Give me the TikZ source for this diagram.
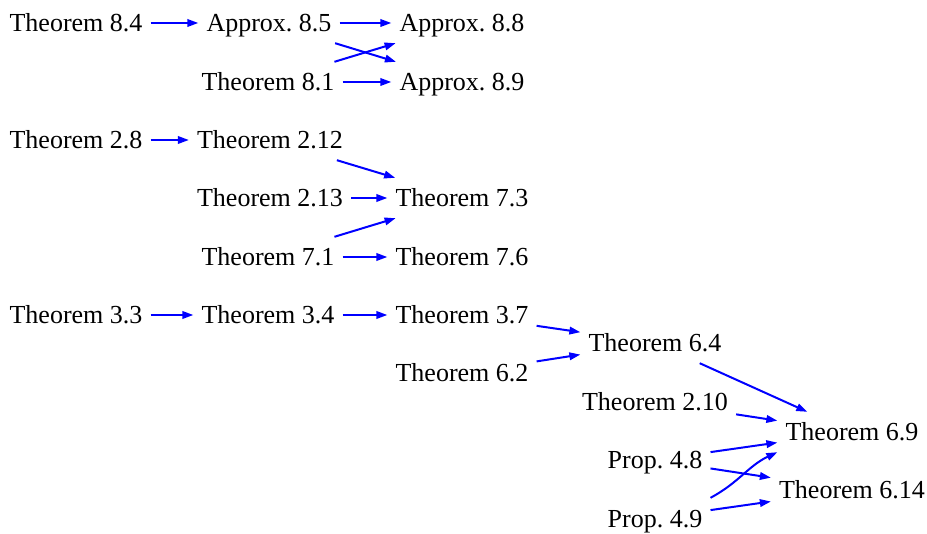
\documentclass[tikz,border=0pt]{standalone}
\usepackage{fontspec}
\setmainfont{Liberation Serif}
\usetikzlibrary{arrows.meta}

\begin{document}
\begin{tikzpicture}[
  x=1pt, y=-1pt,
  res/.style={font=\fontsize{26}{30}\selectfont, inner xsep=8pt, inner ysep=8pt,
              text height=21pt, text depth=3pt},
  arr/.style={-{Triangle[length=11pt,width=7.5pt]}, blue, line width=2pt},
]
\useasboundingbox (0,0) rectangle (927,534);

% first group
\node[res] (t84) at (76,23)  {Theorem 8.4};
\node[res] (a85) at (269,23) {Approx.\ 8.5};
\node[res] (a88) at (462,23) {Approx.\ 8.8};
\node[res] (t81) at (268,82) {Theorem 8.1};
\node[res] (a89) at (462,82) {Approx.\ 8.9};

% second group
\node[res] (t28)  at (76,140)  {Theorem 2.8};
\node[res] (t212) at (270,140) {Theorem 2.12};
\node[res] (t213) at (270,198) {Theorem 2.13};
\node[res] (t73)  at (462,198) {Theorem 7.3};
\node[res] (t71)  at (268,257) {Theorem 7.1};
\node[res] (t76)  at (462,257) {Theorem 7.6};

% third group
\node[res] (t33)  at (76,315)  {Theorem 3.3};
\node[res] (t34)  at (268,315) {Theorem 3.4};
\node[res] (t37)  at (462,315) {Theorem 3.7};
\node[res] (t62)  at (462,373) {Theorem 6.2};
\node[res] (t64)  at (655,343) {Theorem 6.4};
\node[res] (t210) at (655,402) {Theorem 2.10};
\node[res] (p48)  at (655,460) {Prop.\ 4.8};
\node[res] (p49)  at (655,518) {Prop.\ 4.9};
\node[res] (t69)  at (852,432) {Theorem 6.9};
\node[res] (t614) at (852,490) {Theorem 6.14};

\draw[arr] (t84) -- (a85);
\draw[arr] (a85) -- (a88);
\draw[arr] (a85) -- (a89);
\draw[arr] (t81) -- (a88);
\draw[arr] (t81) -- (a89);

\draw[arr] (t28) -- (t212);
\draw[arr] (t212) -- (t73);
\draw[arr] (t213) -- (t73);
\draw[arr] (t71) -- (t73);
\draw[arr] (t71) -- (t76);

\draw[arr] (t33) -- (t34);
\draw[arr] (t34) -- (t37);
\draw[arr] (t37) -- (t64);
\draw[arr] (t62) -- (t64);
\draw[arr] (t64) -- (t69);
\draw[arr] (t210) -- (t69);
\draw[arr] (p48) -- (t69);
\draw[arr] (p48) -- (t614);
\draw[arr] (p49) -- (t614);
\draw[arr] (p49.north east) to[out=28,in=-155] (t69.south west);

\end{tikzpicture}
\end{document}
